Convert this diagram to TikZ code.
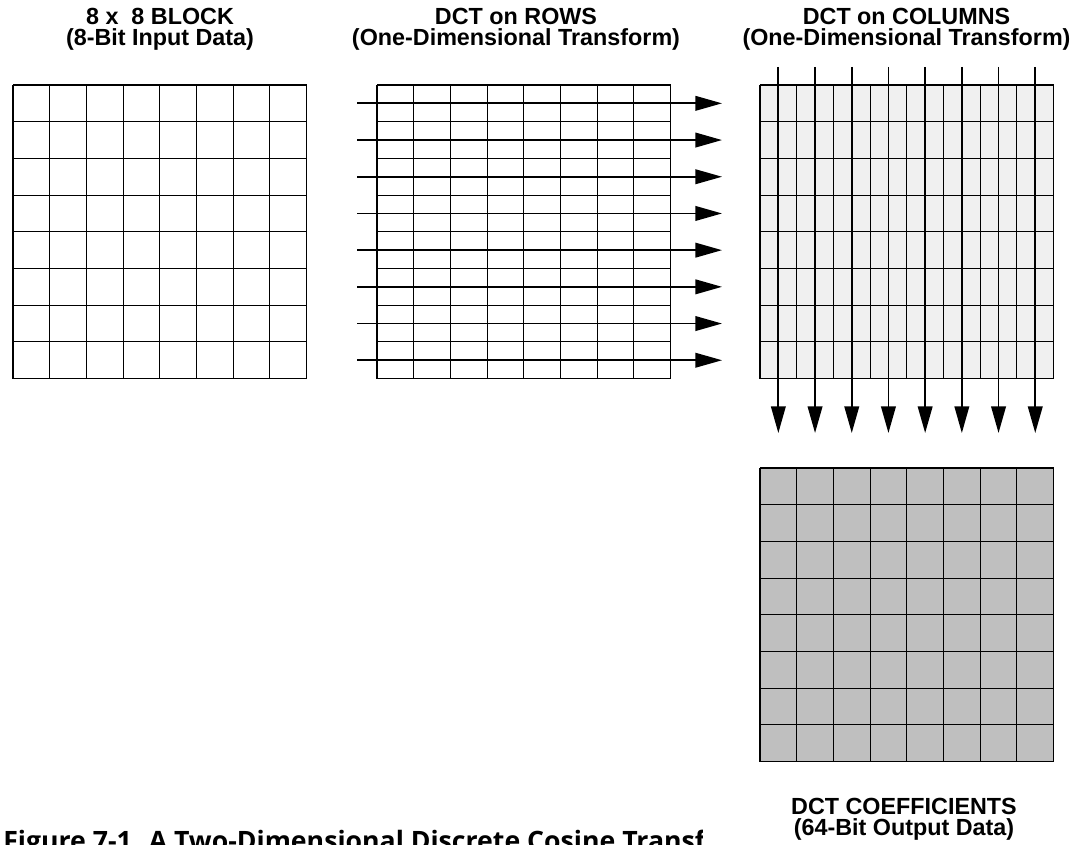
\documentclass[tikz,border=0pt]{standalone}
\usepackage{fontspec}
\setmainfont{Liberation Sans}
\newfontfamily\capfont{Open Sans}
\usetikzlibrary{arrows.meta}

\begin{document}
\begin{tikzpicture}[x=0.75pt,y=-0.75pt,
  cellline/.style={line width=0.8pt},
  flowarrow/.style={line width=1.3pt,-{Triangle[length=20pt,width=11pt]}},
  heading/.style={align=center,inner sep=0pt,anchor=north,
    font=\fontsize{17.5}{16}\selectfont\bfseries}]
\useasboundingbox (0,0) rectangle (1076,845);
\clip (0,0) rectangle (1076,845);
\def\cw{36.7}

% 8 x 8 input block
\foreach \i in {0,...,8} {
  \draw[cellline] (13+\cw*\i,85) -- (13+\cw*\i,378.6);
  \draw[cellline] (13,85+\cw*\i) -- (306.6,85+\cw*\i);
}

% row transform block, rows split in half
\foreach \i in {0,...,8}
  \draw[cellline] (377+\cw*\i,85) -- (377+\cw*\i,378.6);
\foreach \j in {0,...,16}
  \draw[cellline] (377,85+0.5*\cw*\j) -- (670.6,85+0.5*\cw*\j);

% column transform block, columns split in half
\fill[black!6] (760,85) rectangle (1053.6,378.6);
\foreach \j in {0,...,16}
  \draw[cellline] (760+0.5*\cw*\j,85) -- (760+0.5*\cw*\j,378.6);
\foreach \i in {0,...,8}
  \draw[cellline] (760,85+\cw*\i) -- (1053.6,85+\cw*\i);

% coefficient block
\fill[black!25] (760,468) rectangle (1053.6,761.6);
\foreach \i in {0,...,8} {
  \draw[cellline] (760+\cw*\i,468) -- (760+\cw*\i,761.6);
  \draw[cellline] (760,468+\cw*\i) -- (1053.6,468+\cw*\i);
}

% arrows along rows and columns
\foreach \k in {0,...,7} {
  \coordinate (rowin\k) at (357,103.35+\cw*\k);
  \coordinate (rowout\k) at (722,103.35+\cw*\k);
  \draw[flowarrow] (rowin\k) -- (rowout\k);
  \coordinate (colin\k) at (778.35+\cw*\k,67);
  \coordinate (colout\k) at (778.35+\cw*\k,433);
  \draw[flowarrow] (colin\k) -- (colout\k);
}

\node[heading] (inlabel) at (160,8) {8 x\ \ 8 BLOCK\\(8-Bit Input Data)};
\node[heading] (rowlabel) at (516,8) {DCT on ROWS\\(One-Dimensional Transform)};
\node[heading] (collabel) at (906.5,8) {DCT on COLUMNS\\(One-Dimensional Transform)};
\node[heading] (outlabel) at (904,798) {DCT COEFFICIENTS\\(64-Bit Output Data)};

% caption, cut off by the page
\begin{scope}
\clip (0,790) rectangle (702.5,845);
\node[anchor=north west,inner sep=0pt,
  font=\capfont\fontsize{20}{20}\selectfont\bfseries] (caption) at (3,830)
  {Figure 7-1. A Two-Dimensional Discrete Cosine Transform};
\end{scope}
\end{tikzpicture}
\end{document}
